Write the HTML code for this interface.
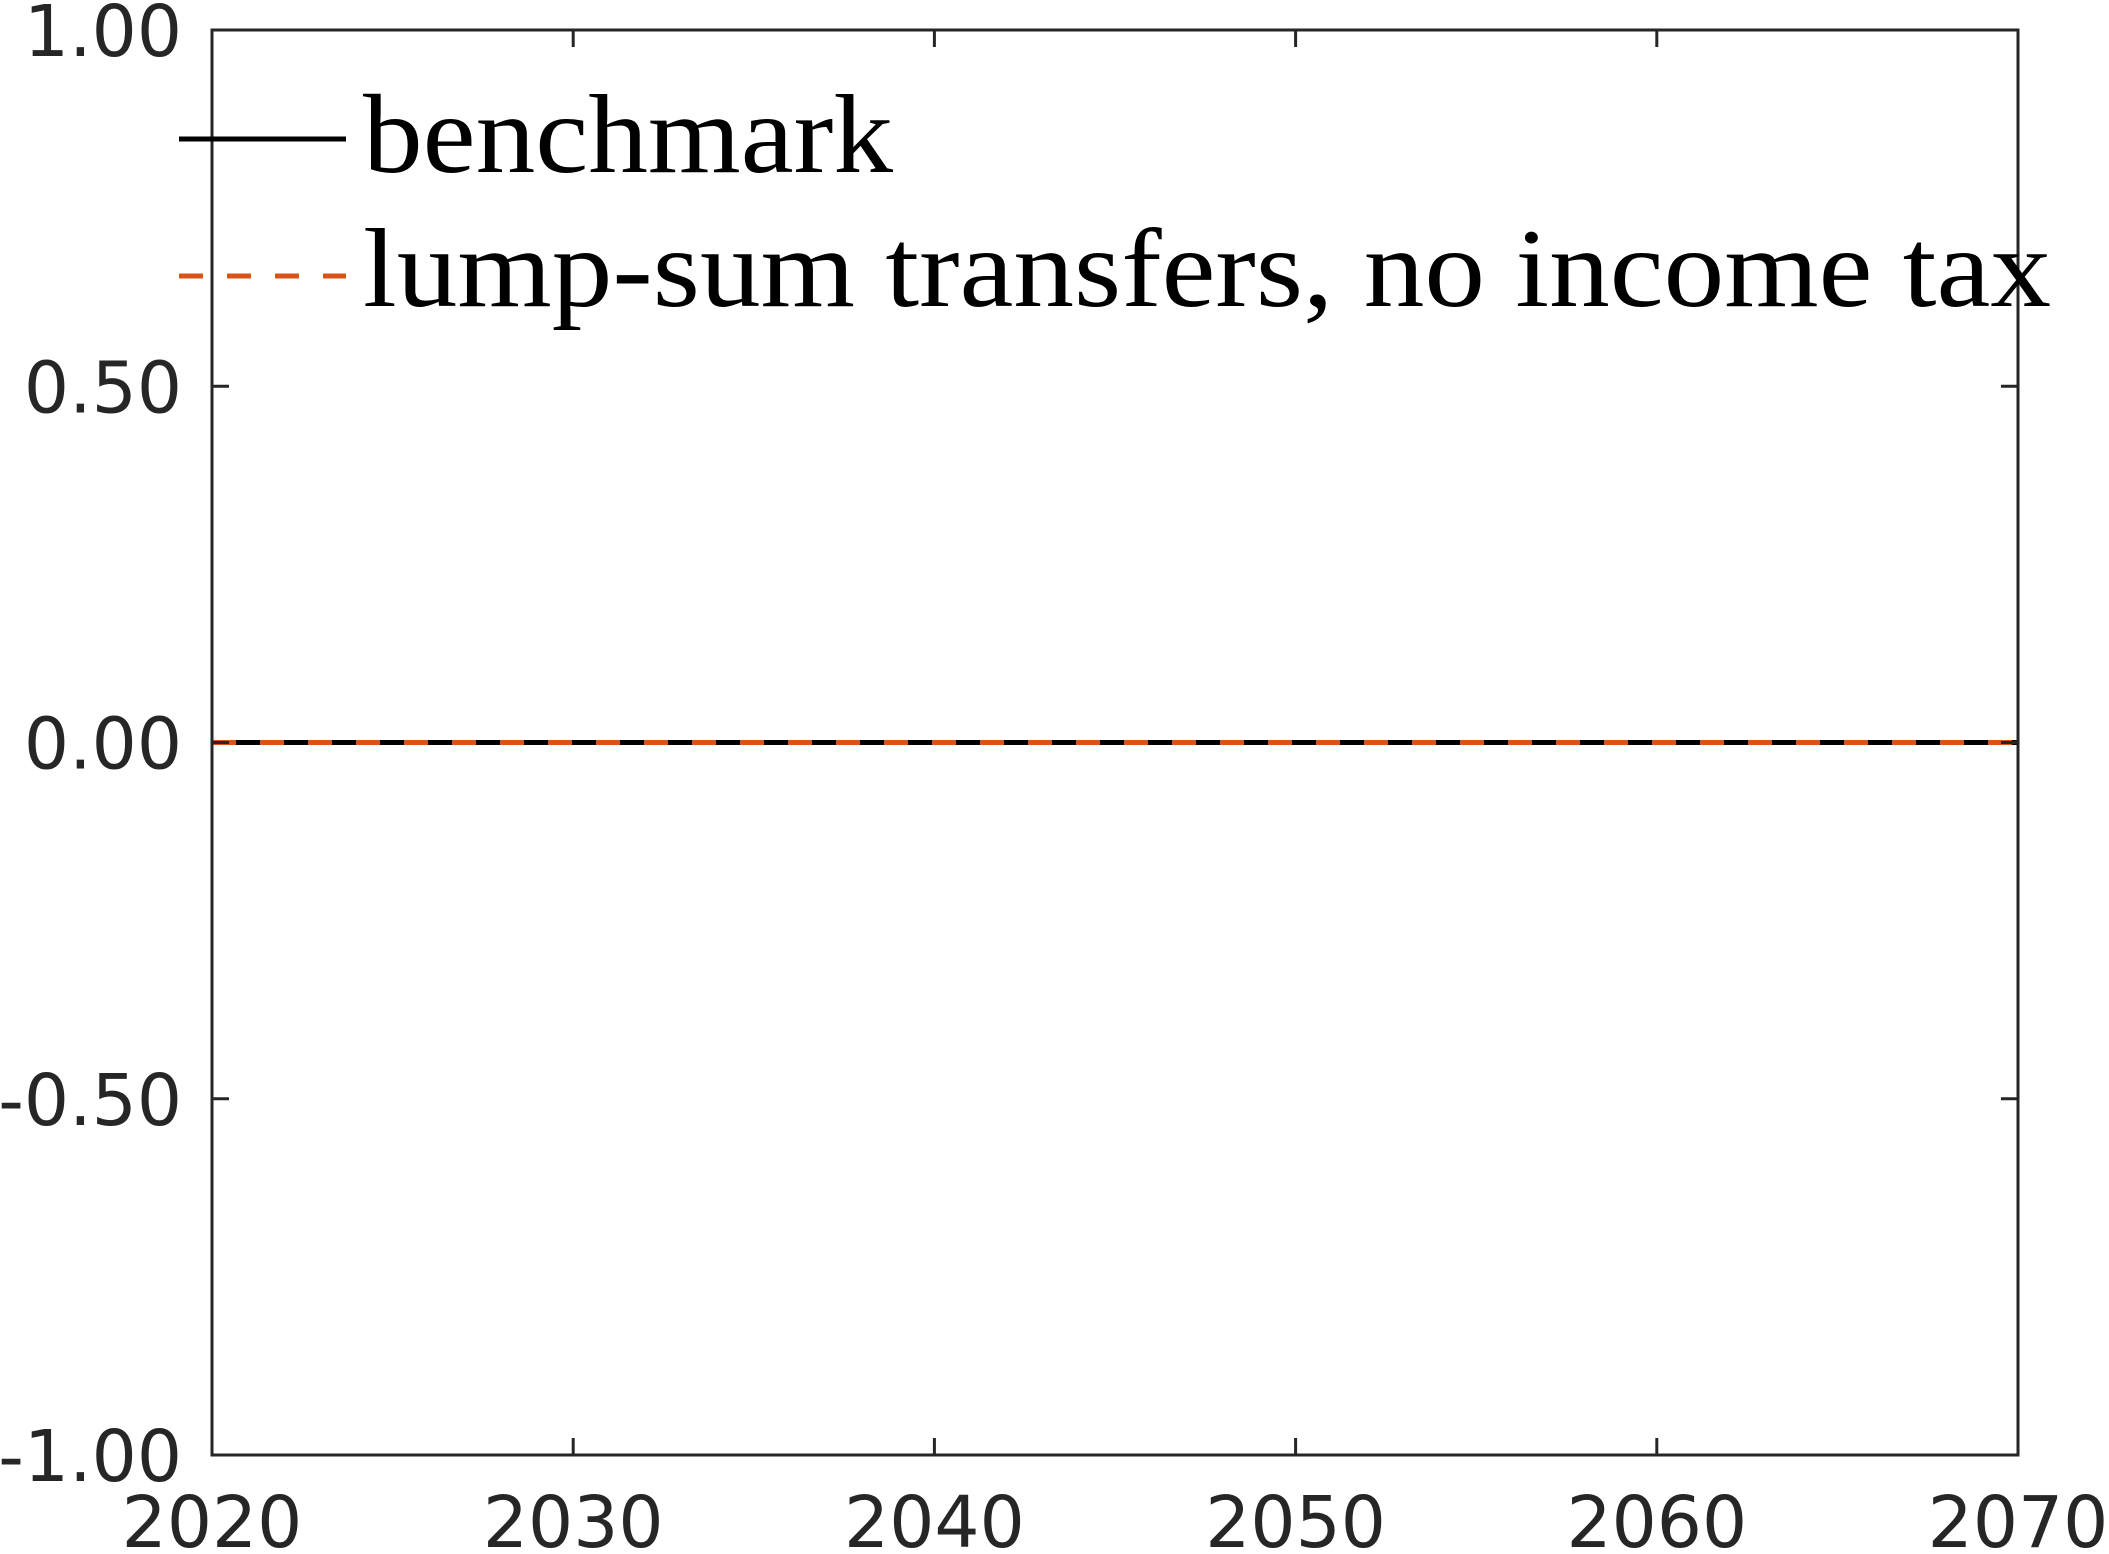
<!DOCTYPE html>
<html><head><meta charset="utf-8"><style>html,body{margin:0;padding:0;background:#fff}svg{display:block}</style></head>
<body>
<svg id="chart" width="2109" height="1554" xmlns="http://www.w3.org/2000/svg"></svg>
<script>
const years = [2020, 2025, 2030, 2035, 2040, 2045, 2050, 2055, 2060, 2065, 2070];
const benchmark = [0, 0, 0, 0, 0, 0, 0, 0, 0, 0, 0];
const lumpSum = [0, 0, 0, 0, 0, 0, 0, 0, 0, 0, 0];
const xTicks = [2020, 2030, 2040, 2050, 2060, 2070];
const yTicks = [-1, -0.5, 0, 0.5, 1];
const yTickLabels = ["-1.00", "-0.50", "0.00", "0.50", "1.00"];

const L = 212, R = 2018, T = 30, B = 1455;
const xS = v => L + (v - 2020) / 50 * (R - L);
const yS = v => B - (v + 1) / 2 * (B - T);
const svg = document.getElementById('chart');
const NS = 'http://www.w3.org/2000/svg';
function mk(tag, attrs, parent) {
  const e = document.createElementNS(NS, tag);
  for (const k in attrs) e.setAttribute(k, attrs[k]);
  (parent || svg).appendChild(e);
  return e;
}
const font = '"DejaVu Sans","Liberation Sans",sans-serif';

function series(vals, attrs, name) {
  const d = vals.map((v, i) => (i ? 'L' : 'M') + xS(years[i]) + ' ' + yS(v)).join(' ');
  const p = mk('path', Object.assign({ d: d, fill: 'none' }, attrs));
  
  
}
series(benchmark, { stroke: '#000', 'stroke-width': 5 }, 'benchmark-line');
series(lumpSum, { stroke: '#d95319', 'stroke-width': 5, 'stroke-dasharray': '24 24' }, 'lump-sum-line');

const box = mk('rect', { x: L, y: T, width: R - L, height: B - T, fill: 'none', stroke: '#262626', 'stroke-width': 3 });



xTicks.forEach(t => {
  const x = xS(t);
  mk('line', { x1: x, x2: x, y1: B, y2: B - 17, stroke: '#262626', 'stroke-width': 3 });
  mk('line', { x1: x, x2: x, y1: T, y2: T + 17, stroke: '#262626', 'stroke-width': 3 });
  const tx = mk('text', { x: x, y: 1547, 'text-anchor': 'middle', 'font-size': 71, fill: '#262626', 'font-family': font });
  tx.textContent = t;
  
  
});
yTicks.forEach((t, i) => {
  const y = yS(t);
  mk('line', { x1: L, x2: L + 17, y1: y, y2: y, stroke: '#262626', 'stroke-width': 3 });
  mk('line', { x1: R, x2: R - 17, y1: y, y2: y, stroke: '#262626', 'stroke-width': 3 });
  const tx = mk('text', { x: 182, y: y + 26, 'text-anchor': 'end', 'font-size': 71, fill: '#262626', 'font-family': font });
  tx.textContent = yTickLabels[i];
  
  
});

const lg = mk('g', {});


mk('line', { x1: 179, x2: 346, y1: 139, y2: 139, stroke: '#000', 'stroke-width': 5 }, lg);
mk('line', { x1: 179, x2: 346, y1: 276, y2: 276, stroke: '#d95319', 'stroke-width': 5, 'stroke-dasharray': '24 24' }, lg);
const t1 = mk('text', { x: 363, y: 172, 'font-size': 112, 'font-family': '"Liberation Serif",serif', fill: '#000', textLength: 530, lengthAdjust: 'spacingAndGlyphs' }, lg);
t1.textContent = 'benchmark';


const t2 = mk('text', { x: 363, y: 306, 'font-size': 112, 'font-family': '"Liberation Serif",serif', fill: '#000', textLength: 1688, lengthAdjust: 'spacingAndGlyphs' }, lg);
t2.textContent = 'lump-sum transfers, no income tax';


</script>
</body></html>
